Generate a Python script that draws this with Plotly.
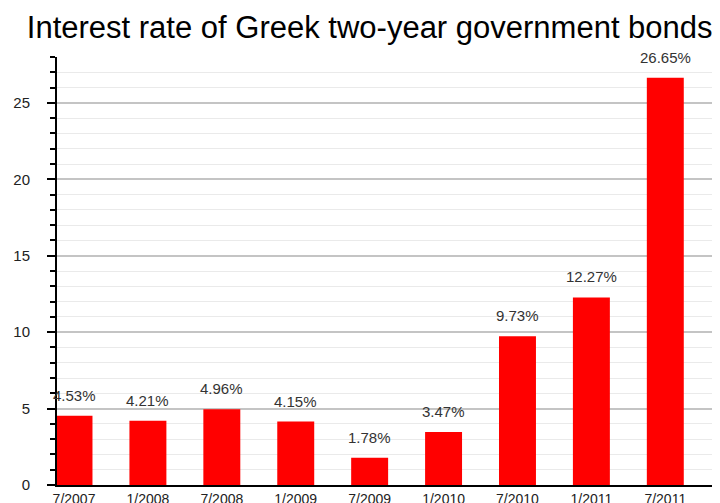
import plotly.graph_objects as go

categories = ["7/2007", "1/2008", "7/2008", "1/2009", "7/2009", "1/2010", "7/2010", "1/2011", "7/2011"]
rates = [4.53, 4.21, 4.96, 4.15, 1.78, 3.47, 9.73, 12.27, 26.65]
labels = ["4.53%", "4.21%", "4.96%", "4.15%", "1.78%", "3.47%", "9.73%", "12.27%", "26.65%"]

xpos = list(range(len(categories)))
FONT = "Liberation Sans, Arial, sans-serif"

fig = go.Figure()
fig.add_trace(go.Bar(
    x=xpos, y=rates, width=0.5,
    marker=dict(color="#ff0000", line=dict(width=0)),
))

for xv, yv, t in zip(xpos, rates, labels):
    fig.add_annotation(x=xv, y=yv, text=t, showarrow=False,
                       yanchor="bottom", yshift=10,
                       font=dict(family=FONT, size=15, color="#333333"))

# page body has an 8px default margin, so the figure is sized to fit the window
fig.update_layout(
    width=712, height=495,
    margin=dict(l=49, r=0, t=49, b=18, autoexpand=False),
    paper_bgcolor="white", plot_bgcolor="white",
    showlegend=False,
    title=dict(text="Interest rate of Greek two-year government bonds",
               x=0.508, xanchor="center", y=0.984, yanchor="top",
               font=dict(family=FONT, size=31, color="black")),
    xaxis=dict(
        range=[-0.23, 8.74], tickmode="array", tickvals=xpos, ticktext=categories,
        showgrid=False, zeroline=False, showline=True, linecolor="black", linewidth=2,
        ticks="", automargin=False,
        tickfont=dict(family=FONT, size=14, color="#222222"),
    ),
    yaxis=dict(
        range=[0, 28], tickmode="linear", tick0=0, dtick=5, automargin=False,
        showgrid=True, gridcolor="#c4c4c4", gridwidth=1.5,
        zeroline=False, showline=True, linecolor="black", linewidth=2,
        ticks="outside", ticklen=8, tickwidth=2, tickcolor="black",
        ticklabelstandoff=14,
        tickfont=dict(family=FONT, size=15, color="#222222"),
        minor=dict(dtick=1, showgrid=True, gridcolor="#eaeaea", gridwidth=1,
                   ticks="outside", ticklen=5, tickwidth=1.5, tickcolor="black"),
    ),
)

fig.write_html("out.html")
